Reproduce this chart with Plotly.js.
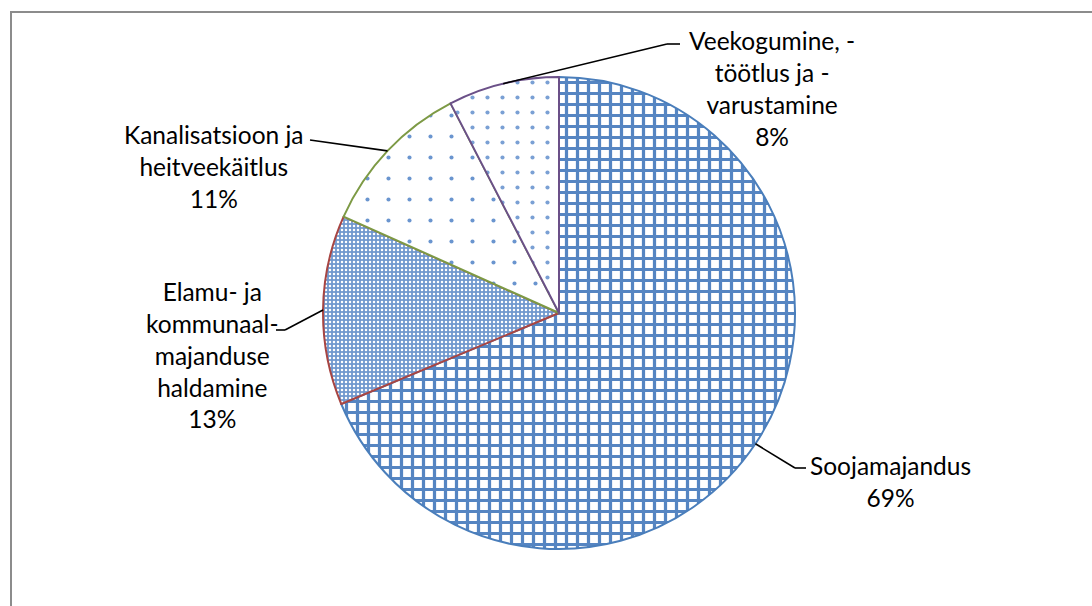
<!DOCTYPE html>
<html>
<head>
<meta charset="utf-8">
<script src="https://cdn.plot.ly/plotly-3.0.1.min.js"></script>
<style>
  html, body { margin: 0; padding: 0; background: #fff; }
  #wrap { position: relative; width: 1092px; height: 606px; overflow: hidden; }
  #chart { width: 1092px; height: 606px; }
  #frame { position: absolute; left: 10px; top: 11px; width: 1200px; height: 800px;
           border-left: 2px solid #8c8c8c; border-top: 2px solid #8c8c8c; pointer-events: none; }
</style>
</head>
<body>
<div id="wrap"><div id="chart"></div><div id="frame"></div></div>
<script>
// ---- data ----
const categories = ['Soojamajandus', 'Elamu- ja kommunaal-majanduse haldamine', 'Kanalisatsioon ja heitveekäitlus', 'Veekogumine, -töötlus ja -varustamine'];
const labelLines = ['Soojamajandus', 'Elamu- ja<br>kommunaal-<br>majanduse<br>haldamine', 'Kanalisatsioon ja<br>heitveekäitlus', 'Veekogumine, -<br>töötlus ja -<br>varustamine'];
const values = [68.7, 13.0, 10.7, 7.6];

// ---- styling / layout ----
const W = 1092, H = 606;
const M = {l: 100, r: 74, t: 77, b: 57};
const plotW = W - M.l - M.r, plotH = H - M.t - M.b;
const cx = M.l + plotW / 2, cy = M.t + plotH / 2, R = Math.min(plotW, plotH) / 2;
const px2x = p => (p - M.l) / plotW;
const py2y = p => (M.t + plotH - p) / plotH;

const textPos = [[890, 481], [212, 355], [214, 166], [772, 88]];
const elbows = [[[795, 468], [806, 468]], [[285, 330], [276, 330]], [[310, 140]], [[667, 44], [680, 44]]];
const lineColors = ['#4A7EBB', '#A84542', '#7D9A45', '#6B5088'];

const total = values.reduce((a, b) => a + b, 0);
const annotations = [], shapes = [];
let cum = 0;
values.forEach((v, i) => {
  const mid = (cum + v / 2) / total * 2 * Math.PI;
  cum += v;
  const tx = cx + R * Math.sin(mid), ty = cy - R * Math.cos(mid);
  const pts = [[tx, ty]].concat(elbows[i]);
  for (let k = 0; k < pts.length - 1; k++) {
    shapes.push({type: 'line', xref: 'paper', yref: 'paper',
      x0: px2x(pts[k][0]), y0: py2y(pts[k][1]), x1: px2x(pts[k + 1][0]), y1: py2y(pts[k + 1][1]),
      line: {color: '#000', width: 1.6}});
  }
  annotations.push({
    xref: 'paper', yref: 'paper', x: px2x(textPos[i][0]), y: py2y(textPos[i][1]),
    xanchor: 'center', yanchor: 'middle', align: 'center', showarrow: false,
    text: labelLines[i] + '<br>' + Math.round(v / total * 100) + '%',
    font: {family: 'Lato, "Open Sans", sans-serif', size: 24.5, color: '#000'}
  });
});

const trace = {
  type: 'pie',
  labels: categories,
  values: values,
  sort: false,
  direction: 'clockwise',
  rotation: 0,
  textinfo: 'none',
  hoverinfo: 'label+percent',
  marker: {
    colors: ['#ffffff', '#7FA2D3', '#ffffff', '#ffffff'],
    line: {color: lineColors, width: 2},
    pattern: {
      shape: ['+', '.', '.', '.'],
      fgcolor: ['#5585C2', '#ffffff', '#6A95CF', '#7AA0D4'],
      bgcolor: ['#ffffff', '#7098CE', '#ffffff', '#ffffff'],
      size: [11, 4, 21, 15],
      solidity: [0.5, 0.3, 0.03, 0.06],
      fillmode: 'replace'
    }
  },
  showlegend: false
};

Plotly.newPlot('chart', [trace], {
  width: W, height: H,
  margin: M,
  paper_bgcolor: '#fff',
  plot_bgcolor: '#fff',
  showlegend: false,
  annotations: annotations,
  shapes: shapes
}, {displayModeBar: false, staticPlot: true});
</script>
</body>
</html>
